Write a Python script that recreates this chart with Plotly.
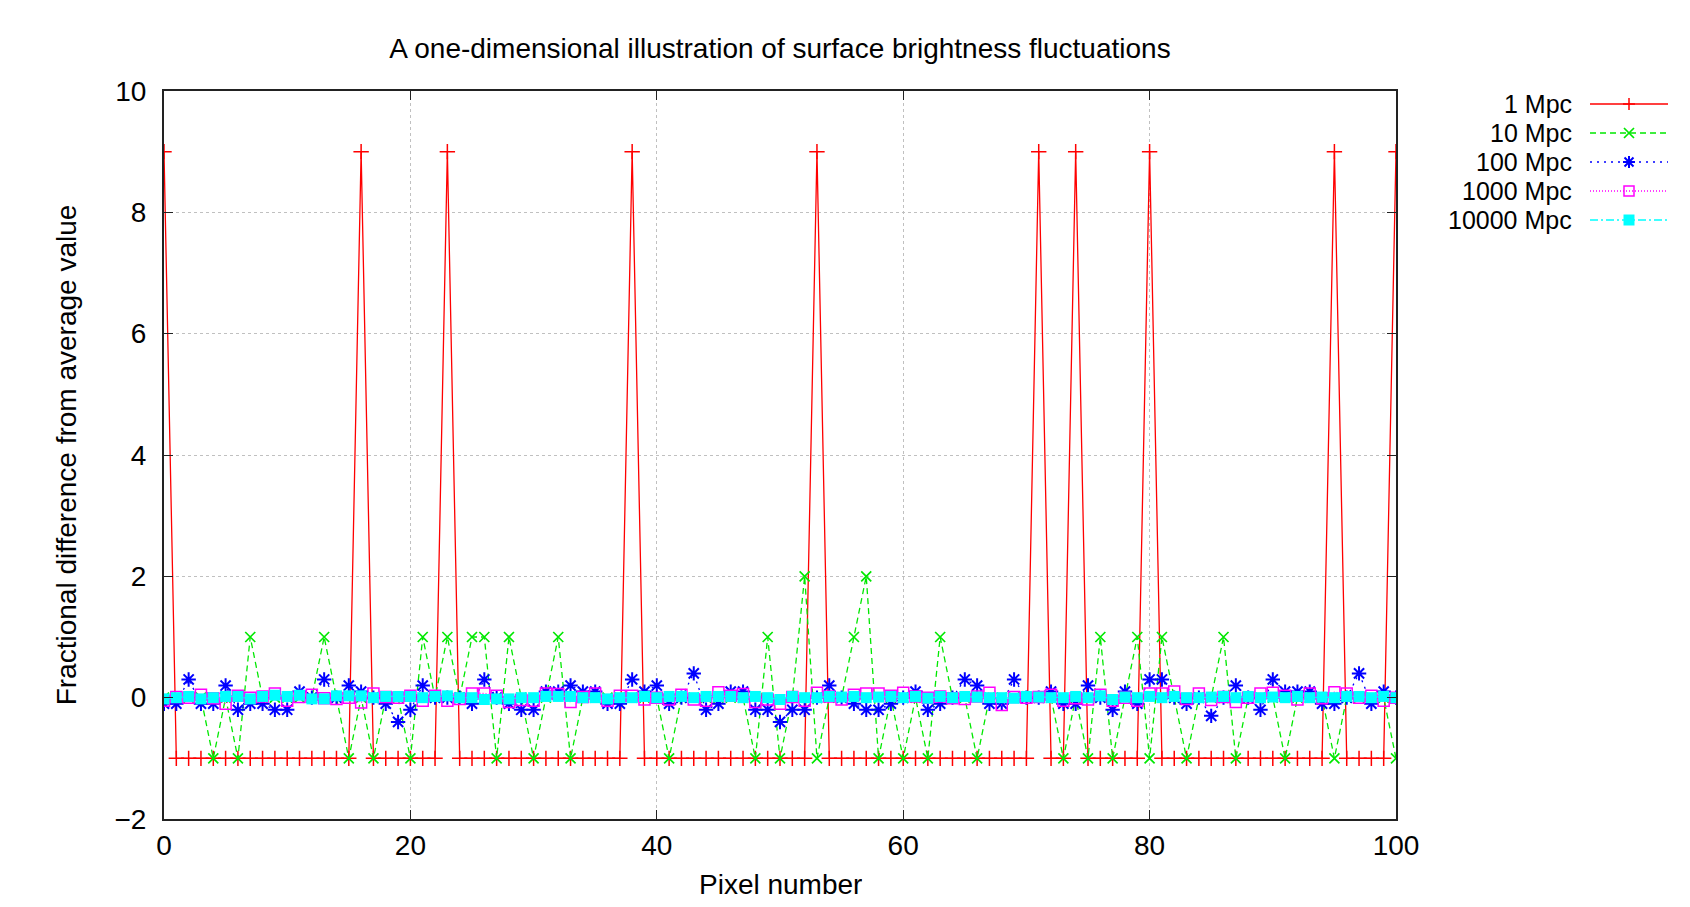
import plotly.graph_objects as go

# Pixel index along the one-dimensional "image".
pixels = list(range(101))

# Fractional difference from the average value, one list per distance.
mpc_1 = [
    9, -1, -1, -1, -1, -1, -1, -1, -1, -1,
    -1, -1, -1, -1, -1, -1, 9, -1, -1, -1,
    -1, -1, -1, 9, -1, -1, -1, -1, -1, -1,
    -1, -1, -1, -1, -1, -1, -1, -1, 9, -1,
    -1, -1, -1, -1, -1, -1, -1, -1, -1, -1,
    -1, -1, -1, 9, -1, -1, -1, -1, -1, -1,
    -1, -1, -1, -1, -1, -1, -1, -1, -1, -1,
    -1, 9, -1, -1, 9, -1, -1, -1, -1, -1,
    9, -1, -1, -1, -1, -1, -1, -1, -1, -1,
    -1, -1, -1, -1, -1, 9, -1, -1, -1, -1,
    9,
]

mpc_10 = [
    0, 0, 0, 0, -1, 0, -1, 1, 0, 0,
    0, 0, 0, 1, 0, -1, 0, -1, 0, 0,
    -1, 1, 0, 1, 0, 1, 1, -1, 1, 0,
    -1, 0, 1, -1, 0, 0, 0, 0, 0, 0,
    0, -1, 0, 0, 0, 0, 0, 0, -1, 1,
    -1, 0, 2, -1, 0, 0, 1, 2, -1, 0,
    -1, 0, -1, 1, 0, 0, -1, 0, 0, 0,
    0, 0, 0, -1, 0, -1, 1, -1, 0, 1,
    -1, 1, 0, -1, 0, 0, 1, -1, 0, 0,
    0, -1, 0, 0, 0, -1, 0, 0, 0, 0,
    -1,
]

mpc_100 = [
    -0.1, -0.1, 0.3, -0.1, -0.1, 0.2, -0.2, -0.1, -0.1, -0.2,
    -0.2, 0.1, 0.0, 0.3, 0.0, 0.2, 0.1, 0.0, -0.1, -0.4,
    -0.2, 0.2, 0.0, 0.0, 0.0, -0.1, 0.3, 0.0, -0.1, -0.2,
    -0.2, 0.1, 0.1, 0.2, 0.1, 0.1, -0.1, -0.1, 0.3, 0.1,
    0.2, -0.1, 0.0, 0.4, -0.2, -0.1, 0.1, 0.1, -0.2, -0.2,
    -0.4, -0.2, -0.2, 0.0, 0.2, 0.0, -0.1, -0.2, -0.2, -0.1,
    0.0, 0.1, -0.2, -0.1, 0.0, 0.3, 0.2, -0.1, -0.1, 0.3,
    0.0, 0.0, 0.1, -0.1, -0.1, 0.2, 0.0, -0.2, 0.1, -0.1,
    0.3, 0.3, 0.0, -0.1, 0.0, -0.3, 0.0, 0.2, 0.0, -0.2,
    0.3, 0.1, 0.1, 0.1, -0.1, -0.1, 0.0, 0.4, -0.1, 0.1,
    0.0,
]

mpc_1000 = [
    -0.05, 0.01, 0.0, 0.05, -0.01, -0.1, 0.03, 0.0, 0.02, 0.07,
    -0.05, 0.01, 0.05, -0.01, -0.02, 0.0, -0.08, 0.07, 0.01, 0.0,
    0.03, -0.05, 0.03, -0.05, -0.02, 0.07, 0.07, 0.03, -0.07, -0.04,
    -0.05, 0.07, 0.06, -0.07, 0.01, 0.07, -0.05, 0.03, 0.03, -0.03,
    0.0, -0.03, 0.05, -0.03, -0.05, 0.09, 0.03, 0.06, -0.07, -0.03,
    -0.1, 0.01, -0.05, 0.08, 0.02, -0.03, 0.05, 0.07, 0.07, 0.03,
    0.08, 0.02, 0.0, 0.02, -0.01, -0.02, 0.02, 0.08, -0.12, 0.01,
    0.0, 0.01, 0.05, -0.05, -0.01, -0.03, 0.05, -0.05, 0.0, -0.05,
    0.07, 0.07, 0.1, -0.02, 0.07, -0.04, 0.01, -0.07, 0.0, 0.07,
    0.08, 0.03, -0.03, 0.07, -0.01, 0.09, 0.07, 0.0, 0.03, -0.05,
    0.0,
]

mpc_10000 = [
    -0.02, 0.0, 0.02, -0.02, 0.0, 0.02, 0.02, -0.02, 0.02, 0.04,
    0.02, 0.04, -0.02, -0.02, 0.03, 0.03, 0.03, 0.0, 0.02, 0.02,
    0.02, 0.0, 0.02, 0.03, 0.0, 0.0, -0.03, -0.02, -0.02, 0.0,
    0.0, 0.02, 0.02, 0.02, 0.0, 0.0, -0.02, 0.0, 0.0, 0.02,
    0.0, 0.02, 0.02, 0.0, 0.02, 0.02, 0.02, 0.0, 0.02, 0.0,
    -0.03, 0.02, 0.0, 0.0, 0.02, 0.01, 0.02, 0.0, 0.01, 0.02,
    0.0, 0.02, -0.01, 0.02, 0.0, 0.02, 0.01, 0.0, 0.0, -0.01,
    0.02, 0.01, 0.0, 0.0, 0.02, 0.0, 0.03, -0.03, 0.01, 0.0,
    0.02, 0.0, 0.02, 0.0, 0.0, 0.01, 0.02, 0.0, 0.02, 0.0,
    0.01, 0.0, 0.02, 0.0, 0.01, 0.0, 0.02, 0.02, 0.0, 0.02,
    0.0,
]

series_names = ["1 Mpc", "10 Mpc", "100 Mpc", "1000 Mpc", "10000 Mpc"]

x_ticks = [0, 20, 40, 60, 80, 100]
y_ticks = [-2, 0, 2, 4, 6, 8, 10]

FONT = "Liberation Sans, Arial, Helvetica, sans-serif"
FS = 28
KEY_FS = 25

# Figure geometry (the page puts the figure 8 px in from the corner)
W, H = 1674, 891
ML, MT, MB = 156, 83, 80
PW = 1232
MR = W - ML - PW
PH = H - MT - MB
OFF = 8


def px(xp):
    return (xp - OFF - ML) / PW


def py(yp):
    return 1 - (yp - OFF - MT) / PH


# gnuplot-like styles: colour, dash, marker symbol
styles = [
    dict(color="#ff0000", dash="solid", symbol="cross-thin", msize=11, mw=1.5),
    dict(color="#00e800", dash="6px,4px", symbol="x-thin", msize=10, mw=1.7),
    dict(color="#0000ff", dash="2px,5px", symbol="asterisk", msize=12, mw=2),
    dict(color="#ff00ff", dash="1px,2px", symbol="square-open", msize=11, mw=1.5),
    dict(color="#00ffff", dash="8px,3px,2px,3px", symbol="square", msize=11, mw=0),
]

fig = go.Figure()

for name, values, st in zip(series_names,
                            [mpc_1, mpc_10, mpc_100, mpc_1000, mpc_10000],
                            styles):
    fig.add_trace(
        go.Scatter(
            x=pixels,
            y=values,
            name=name,
            mode="lines+markers",
            showlegend=False,
            line=dict(color=st["color"], width=1.3, dash=st["dash"]),
            marker=dict(
                symbol=st["symbol"],
                size=st["msize"],
                color=st["color"],
                line=dict(color=st["color"], width=st["mw"]),
            ),
        )
    )

# gnuplot style key: right-aligned text, then the line sample with its point
glyphs = [
    dict(type="path", path="M-6,0L6,0M0,-6L0,6"),
    dict(type="path", path="M-5,-5L5,5M-5,5L5,-5"),
    dict(type="path", path="M-6,0L6,0M0,-6L0,6M-4.5,-4.5L4.5,4.5M-4.5,4.5L4.5,-4.5"),
    dict(type="rect", x0=-5, x1=5, y0=-5, y1=5),
    dict(type="rect", x0=-5.5, x1=5.5, y0=-5.5, y1=5.5),
]

shapes = []
annotations = []
for i, (name, st, g) in enumerate(zip(series_names, styles, glyphs)):
    row = 104 + 29 * i
    annotations.append(dict(
        x=px(1574), y=py(row), xref="paper", yref="paper",
        xanchor="right", yanchor="middle", showarrow=False,
        text=name, font=dict(size=KEY_FS, color="black", family=FONT),
    ))
    shapes.append(dict(
        type="line", xref="paper", yref="paper",
        x0=px(1590), x1=px(1668), y0=py(row), y1=py(row),
        line=dict(color=st["color"], width=1.3, dash=st["dash"]),
    ))
    glyph = dict(
        xref="paper", yref="paper", xsizemode="pixel", ysizemode="pixel",
        xanchor=px(1629), yanchor=py(row),
        line=dict(color=st["color"], width=max(st["mw"], 1.5)),
    )
    glyph.update(g)
    if i == 4:
        glyph["fillcolor"] = st["color"]
        glyph["line"] = dict(width=0)
    shapes.append(glyph)

# x-axis title placed as an annotation so it can sit lower than the margin allows
annotations.append(dict(
    x=0.5, y=py(884), xref="paper", yref="paper",
    xanchor="center", yanchor="middle", showarrow=False, height=28,
    text="Pixel number", font=dict(size=FS, color="black", family=FONT),
))

axis_common = dict(
    automargin=False,
    showline=True,
    linecolor="#222222",
    linewidth=2,
    mirror="ticks",
    ticks="inside",
    ticklen=9,
    tickwidth=1,
    tickcolor="#222222",
    showgrid=True,
    gridcolor="#c0c0c0",
    griddash="dot",
    gridwidth=1,
    zeroline=False,
    tickfont=dict(size=FS, color="black", family=FONT),
)

fig.update_xaxes(
    range=[0, 100],
    tickvals=x_ticks,
    ticklabelstandoff=0,
    **axis_common,
)

fig.update_yaxes(
    range=[-2, 10],
    tickvals=y_ticks,
    ticklabelstandoff=10,
    title=dict(text="Fractional difference from average value",
               font=dict(size=FS, color="black", family=FONT), standoff=30),
    **axis_common,
)

fig.update_layout(
    width=W,
    height=H,
    margin=dict(l=ML, r=MR, t=MT, b=MB),
    paper_bgcolor="white",
    plot_bgcolor="white",
    font=dict(family=FONT, size=FS, color="black"),
    showlegend=False,
    shapes=shapes,
    annotations=annotations,
    title=dict(
        text="A one-dimensional illustration of surface brightness fluctuations",
        x=0.5,
        xref="paper",
        xanchor="center",
        y=1 - 40 / H,
        yanchor="middle",
        font=dict(size=FS, color="black", family=FONT),
    ),
)

fig.write_html("out.html")
